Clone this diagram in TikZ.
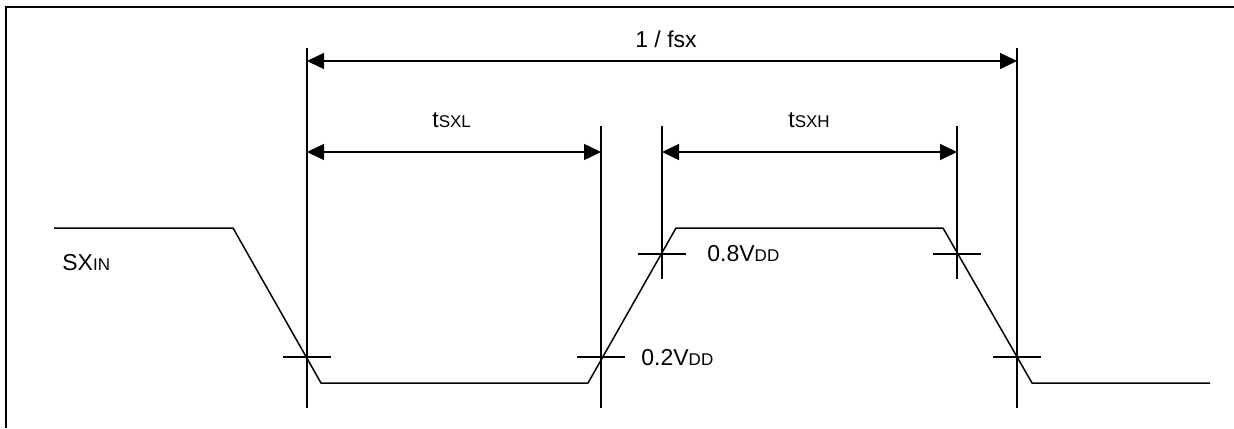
\documentclass[tikz,border=0pt]{standalone}
\usepackage{fontspec}
\setmainfont{Liberation Sans}
\usetikzlibrary{arrows.meta,positioning}

\newcommand{\subtxt}[1]{{\fontsize{8.5}{10}\selectfont #1}}

\begin{document}
\begin{tikzpicture}[
    x=0.5pt, y=-0.5pt,
    >={Triangle[length=8.5pt,width=8pt]},
    wave/.style={line width=0.75pt, line join=miter},
    guide/.style={line width=0.75pt},
    dimline/.style={line width=0.75pt, <->},
    lbl/.style={font=\fontsize{11.5}{13}\selectfont, inner sep=0pt},
  ]
  \useasboundingbox (0,0) rectangle (1234,428);

  % Frame (left and top edge)
  \draw[line width=1.2pt] (6,428) -- (6,7) -- (1234,7);

  % Crossing points
  \coordinate (fall1) at (307,357);
  \coordinate (rise2) at (601,357);
  \coordinate (rise8) at (662,254);
  \coordinate (fall8) at (957,254);
  \coordinate (fall2) at (1017,357);

  % Guide lines
  \coordinate (g1t) at (307,48);   \coordinate (g1b) at (307,408);
  \coordinate (g2t) at (601,126);  \coordinate (g2b) at (601,408);
  \coordinate (g3t) at (662,126);  \coordinate (g3b) at (662,279);
  \coordinate (g4t) at (957,126);  \coordinate (g4b) at (957,279);
  \coordinate (g5t) at (1017,48);  \coordinate (g5b) at (1017,408);
  \draw[guide] (g1t) -- (g1b);
  \draw[guide] (g2t) -- (g2b);
  \draw[guide] (g3t) -- (g3b);
  \draw[guide] (g4t) -- (g4b);
  \draw[guide] (g5t) -- (g5b);

  % Ticks at thresholds
  \foreach \pt in {fall1,rise2,rise8,fall8,fall2}
    \draw[guide] ([xshift=-12pt]\pt) -- ([xshift=12pt]\pt);

  % Waveform
  \draw[wave] (54,228) -- (233,228) -- (321,383) -- (588,383)
    -- (676,228) -- (943,228) -- (1032,383) -- (1210,383);

  % Dimension arrows
  \coordinate (perL) at (307,61);  \coordinate (perR) at (1017,61);
  \coordinate (lowL) at (307,152); \coordinate (lowR) at (601,152);
  \coordinate (highL) at (662,152); \coordinate (highR) at (957,152);
  \draw[dimline] (perL) -- (perR);
  \draw[dimline] (lowL) -- (lowR);
  \draw[dimline] (highL) -- (highR);

  % Labels
  \node[lbl, anchor=base] (period) at (666,47) {1 / fsx};
  \node[lbl, anchor=base west] (tlow) at (432,127) {t\subtxt{SXL}};
  \node[lbl, anchor=base west] (thigh) at (788,127) {t\subtxt{SXH}};
  \node[lbl, anchor=base west] (sig) at (62,270) {SX\subtxt{IN}};
  \node[lbl, anchor=base west] (vhigh) at (707,261) {0.8V\subtxt{DD}};
  \node[lbl, anchor=base west] (vlow) at (641,365) {0.2V\subtxt{DD}};
\end{tikzpicture}
\end{document}
